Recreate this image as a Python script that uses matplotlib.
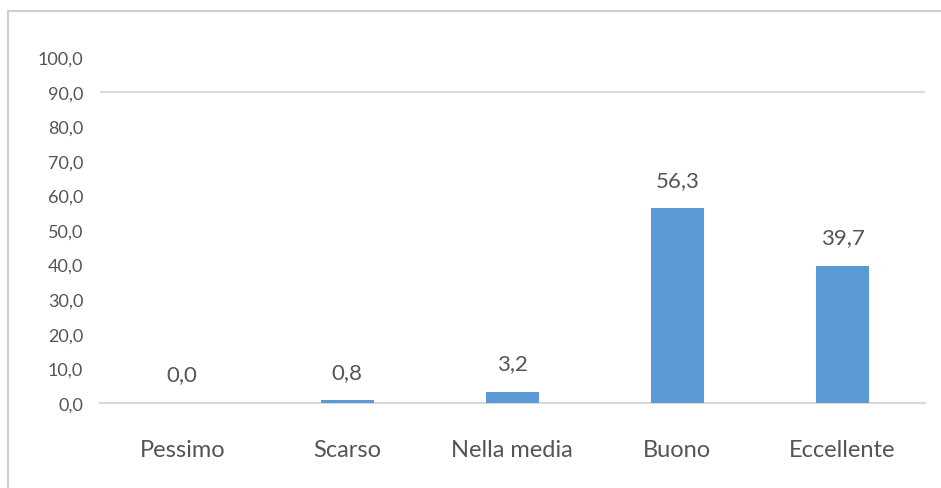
import matplotlib
matplotlib.use("Agg")
import matplotlib.pyplot as plt
from matplotlib.lines import Line2D

categorie = ["Pessimo", "Scarso", "Nella media", "Buono", "Eccellente"]
valori = [0.0, 0.8, 3.2, 56.3, 39.7]
yticks = [0, 10, 20, 30, 40, 50, 60, 70, 80, 90, 100]

grigio = "#555555"
blu = "#5b9bd5"

plt.rcParams["font.family"] = ["Lato", "DejaVu Sans"]

fig = plt.figure(figsize=(9.41, 4.89), dpi=100)
ax = fig.add_axes([0.106, 0.174, 0.877, 0.707])

x = range(len(categorie))
ax.bar(x, valori, width=0.32, color=blu, zorder=3)

for xi, v in zip(x, valori):
    ax.text(xi, v + 6.5, f"{v:.1f}".replace(".", ","), ha="center", va="baseline",
            fontsize=16, color=grigio)

ax.set_xlim(-0.5, len(categorie) - 0.5)
ax.set_ylim(0, 100)
ax.set_yticks(yticks)
ax.set_yticklabels([f"{t:.1f}".replace(".", ",") for t in yticks], fontsize=13, color=grigio)
ax.set_xticks(list(x))
ax.set_xticklabels(categorie, fontsize=17, color=grigio)
ax.tick_params(length=0)
ax.tick_params(axis="x", pad=26)
ax.tick_params(axis="y", pad=12)

for s in ["top", "right", "left"]:
    ax.spines[s].set_visible(False)
ax.spines["bottom"].set_color("#d9d9d9")
ax.spines["bottom"].set_linewidth(1.5)
ax.axhline(90, color="#d9d9d9", linewidth=1.5, zorder=1)

# cornice del riquadro
fig.add_artist(Line2D([0.009, 0.009], [0.0, 0.975], transform=fig.transFigure,
                      color="#cfcfcf", linewidth=1.5))
fig.add_artist(Line2D([0.009, 1.0], [0.975, 0.975], transform=fig.transFigure,
                      color="#cfcfcf", linewidth=1.5))

fig.savefig("out.png", dpi=100)
